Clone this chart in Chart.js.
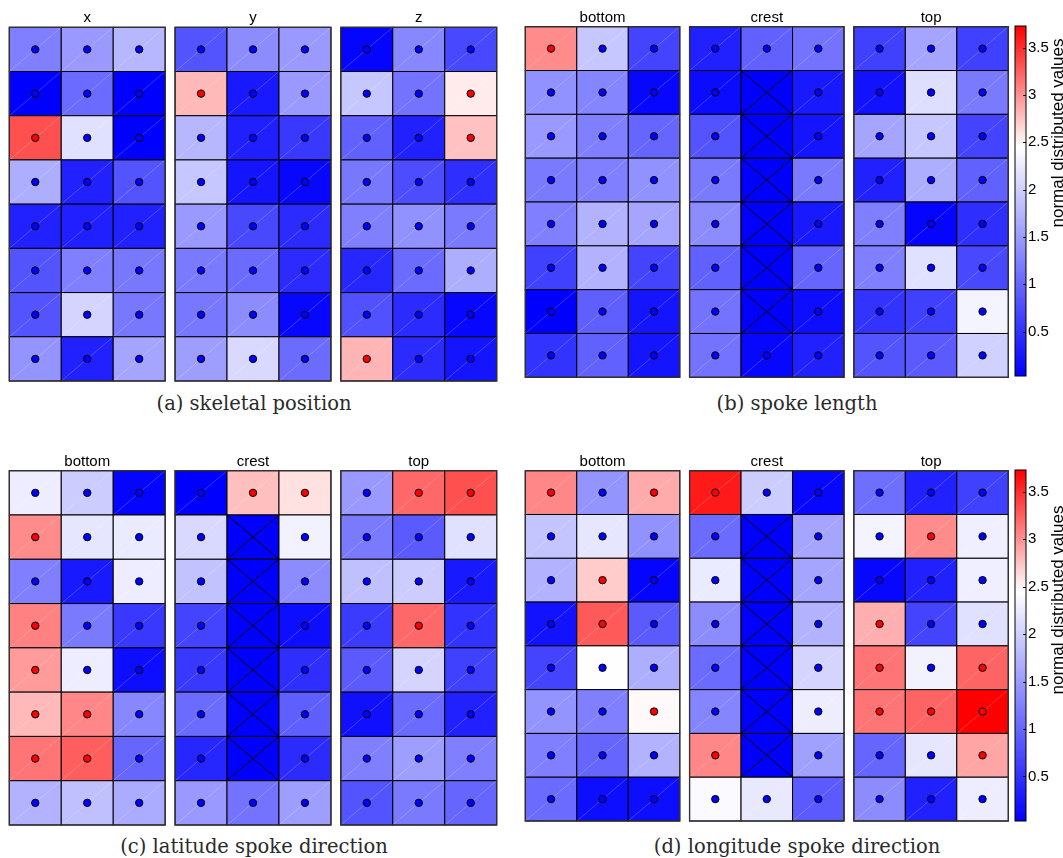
<!DOCTYPE html>
<html>
<head>
<meta charset="utf-8">
<script src="https://cdn.jsdelivr.net/npm/chart.js"></script>
<style>
  body { margin: 0; background: #fff; }
  #page { position: relative; width: 1063px; height: 858px; overflow: hidden; }
  #page canvas { position: absolute; }
  .caption { position: absolute; font-family: 'DejaVu Serif', serif; font-size: 19.5px; color: #2a2a2a;
             transform: translate(-50%, -50%); white-space: nowrap; line-height: 1; }
  .cblabel { position: absolute; font-family: 'Liberation Sans', Arial, sans-serif; font-size: 17px; color: #000;
             transform: translate(-50%, -50%) rotate(-90deg); white-space: nowrap; line-height: 1; }
</style>
</head>
<body>
<div id="page">
  <canvas id="panelA" width="510" height="385" style="left:0px;top:0px"></canvas>
  <canvas id="panelB" width="500" height="385" style="left:515px;top:0px"></canvas>
  <canvas id="panelC" width="510" height="390" style="left:0px;top:440px"></canvas>
  <canvas id="panelD" width="500" height="390" style="left:515px;top:440px"></canvas>
  <canvas id="cbarTop" width="63" height="400" style="left:1000px;top:0px"></canvas>
  <canvas id="cbarBottom" width="63" height="400" style="left:1000px;top:440px"></canvas>

  <div class="caption" style="left:254px;top:404px">(a) skeletal position</div>
  <div class="caption" style="left:797px;top:404px">(b) spoke length</div>
  <div class="caption" style="left:254px;top:847px">(c) latitude spoke direction</div>
  <div class="caption" style="left:797px;top:847px">(d) longitude spoke direction</div>
  <div class="cblabel" style="left:1057px;top:133px">normal distributed values</div>
  <div class="cblabel" style="left:1057px;top:600px">normal distributed values</div>
</div>

<script>
// ---- data: 8 rows (top to bottom) x 3 columns, null = no value (crossed out) ----
const skeletalNames = ['x', 'y', 'z'];
const skeletalX = [
  [1.24, 1.48, 1.77], [0.03, 1.05, 0.03], [3.33, 2.16, 0.03], [1.68, 0.34, 0.83],
  [0.34, 0.32, 0.34], [0.83, 1.24, 1.17], [0.83, 2.04, 1.17], [1.43, 0.34, 1.60]
];
const skeletalY = [
  [0.83, 1.36, 1.48], [2.80, 0.27, 1.48], [1.77, 0.32, 0.56], [1.92, 0.22, 0.10],
  [1.48, 0.71, 0.44], [1.19, 1.05, 0.44], [1.17, 1.36, 0.10], [1.53, 2.09, 1.05]
];
const skeletalZ = [
  [0.08, 1.31, 0.71], [1.92, 1.12, 2.55], [0.95, 0.34, 2.76], [1.17, 0.76, 0.47],
  [1.24, 1.41, 1.19], [0.39, 1.05, 1.68], [0.80, 0.44, 0.10], [2.82, 0.44, 0.22]
];

const partNames = ['bottom', 'crest', 'top'];
const lengthBottom = [
  [3.03, 1.92, 0.68], [1.41, 1.29, 0.10], [1.48, 1.24, 1.00], [1.19, 1.24, 1.41],
  [1.24, 1.72, 1.60], [0.64, 1.72, 0.68], [0.03, 0.93, 0.22], [0.51, 0.95, 0.22]
];
const lengthCrest = [
  [0.34, 0.95, 1.12], [0.13, null, 0.27], [0.83, null, 0.22], [1.19, null, 1.19],
  [1.36, null, 0.27], [0.95, null, 1.00], [1.12, null, 0.15], [1.12, 0.10, 0.34]
];
const lengthTop = [
  [0.64, 1.60, 0.64], [0.20, 2.14, 1.19], [1.60, 1.92, 0.68], [0.34, 1.68, 0.95],
  [1.24, 0.08, 0.47], [1.24, 2.16, 0.71], [0.51, 0.64, 2.35], [0.83, 0.88, 2.01]
];

const latBottom = [
  [2.28, 1.97, 0.08], [3.03, 2.21, 2.26], [1.24, 0.27, 2.28], [3.08, 1.19, 0.56],
  [2.95, 2.28, 0.15], [2.80, 3.05, 1.31], [3.15, 3.26, 1.00], [1.72, 1.85, 1.65]
];
const latCrest = [
  [0.03, 2.77, 2.60], [2.09, null, 2.33], [1.87, null, 1.36], [0.68, null, 0.15],
  [0.56, null, 0.47], [1.05, null, 0.93], [0.39, null, 0.44], [1.48, 1.12, 1.53]
];
const latTop = [
  [1.48, 3.21, 3.33], [1.19, 0.88, 2.16], [1.85, 1.97, 0.27], [0.59, 3.21, 0.51],
  [0.88, 2.04, 0.64], [0.18, 1.05, 0.34], [1.24, 1.53, 1.24], [0.83, 1.19, 1.00]
];

const lonBottom = [
  [3.05, 1.43, 2.87], [1.89, 2.21, 1.41], [1.72, 2.71, 0.08], [0.20, 3.28, 0.88],
  [0.68, 2.44, 1.68], [1.43, 1.24, 2.48], [1.24, 1.00, 1.72], [1.05, 0.15, 0.15]
];
const lonCrest = [
  [3.60, 1.97, 0.10], [1.05, null, 1.60], [2.26, null, 1.60], [1.36, null, 1.72],
  [1.05, null, 2.04], [1.29, null, 2.28], [3.05, null, 1.55], [2.40, 2.23, 0.88]
];
const lonTop = [
  [1.07, 0.34, 0.64], [2.35, 3.03, 2.30], [0.10, 0.34, 2.30], [2.85, 0.68, 2.16],
  [3.15, 2.33, 3.23], [3.15, 3.23, 3.73], [1.00, 2.21, 2.90], [1.36, 0.34, 2.28]
];

const colourbarTicks = [0.5, 1, 1.5, 2, 2.5, 3, 3.5];

// colour scale: blue -> white -> red
const VMIN = 0.03, VWHITE = 2.45, VMAX = 3.73;
const GAP = 0.19;                 // gap between the three grids, in cell widths
const SPAN = 9 + 2 * GAP;

function clamp01(t) { return Math.max(0, Math.min(1, t)); }
function cellColour(v) {
  if (v === null) return 'rgb(0,0,255)';
  if (v <= VWHITE) {
    const c = Math.round(255 * clamp01((v - VMIN) / (VWHITE - VMIN)));
    return `rgb(${c},${c},255)`;
  }
  const c = Math.round(255 * (1 - clamp01((v - VWHITE) / (VMAX - VWHITE))));
  return `rgb(255,${c},${c})`;
}

Chart.defaults.color = '#000';
Chart.defaults.font.family = "'Liberation Sans', Arial, sans-serif";

const heatmapCells = {
  id: 'heatmapCells',
  beforeDatasetsDraw(chart, args, opts) {
    const {ctx, scales: {x, y}} = chart;
    ctx.save();
    opts.groups.forEach((grid, g) => {
      const x0 = g * (3 + GAP);
      grid.forEach((row, r) => {
        row.forEach((v, c) => {
          const l = x.getPixelForValue(x0 + c), rr = x.getPixelForValue(x0 + c + 1);
          const t = y.getPixelForValue(r), b = y.getPixelForValue(r + 1);
          ctx.fillStyle = cellColour(v);
          ctx.fillRect(l, t, rr - l, b - t);
          // faint seam of the two triangles each patch is made of
          ctx.strokeStyle = 'rgba(255,255,255,0.35)';
          ctx.lineWidth = 0.6;
          ctx.beginPath(); ctx.moveTo(l, b); ctx.lineTo(rr, t); ctx.stroke();
          ctx.strokeStyle = '#000';
          ctx.lineWidth = 1;
          if (v === null) {
            ctx.beginPath();
            ctx.moveTo(l, t); ctx.lineTo(rr, b);
            ctx.moveTo(l, b); ctx.lineTo(rr, t);
            ctx.stroke();
          }
          ctx.strokeRect(l, t, rr - l, b - t);
        });
      });
      const l = x.getPixelForValue(x0), rr = x.getPixelForValue(x0 + 3);
      const t = y.getPixelForValue(0), b = y.getPixelForValue(8);
      ctx.strokeStyle = '#333';
      ctx.lineWidth = 1.3;
      ctx.strokeRect(l, t, rr - l, b - t);
    });
    ctx.restore();
  }
};

function dotPoints(groups) {
  const pts = [];
  groups.forEach((grid, g) => grid.forEach((row, r) => row.forEach((v, c) => {
    if (v !== null) pts.push({x: g * (3 + GAP) + c + 0.5, y: r + 0.5, v: v});
  })));
  return pts;
}

function makePanel(id, names, groups, pad) {
  new Chart(document.getElementById(id), {
    type: 'scatter',
    data: {
      datasets: [{
        data: dotPoints(groups),
        pointRadius: 3.7,
        pointBorderWidth: 1,
        pointBorderColor: '#000',
        pointBackgroundColor: ctx => (ctx.raw && ctx.raw.v > VWHITE) ? 'rgb(255,0,0)' : 'rgb(0,0,255)'
      }]
    },
    options: {
      responsive: false,
      animation: false,
      events: [],
      layout: {autoPadding: false, padding: {left: pad.left, right: pad.right, top: 0, bottom: pad.bottom}},
      scales: {
        x: {
          type: 'linear', position: 'top', min: 0, max: SPAN,
          grid: {display: false, drawTicks: false}, border: {display: false},
          afterBuildTicks: s => { s.ticks = [0, 1, 2].map(g => ({value: g * (3 + GAP) + 1.5})); },
          afterFit: s => { s.height = pad.top; },
          ticks: {
            autoSkip: false, maxRotation: 0, padding: 0,
            font: {size: 15},
            callback: (value, index) => names[index]
          }
        },
        y: {type: 'linear', min: 0, max: 8, reverse: true, display: false}
      },
      plugins: {
        legend: {display: false},
        tooltip: {enabled: false},
        heatmapCells: {groups: groups}
      }
    },
    plugins: [heatmapCells]
  });
}

makePanel('panelA', skeletalNames, [skeletalX, skeletalY, skeletalZ],
  {left: 9.3, right: 13.3, top: 27.3, bottom: 4});
makePanel('panelB', partNames, [lengthBottom, lengthCrest, lengthTop],
  {left: 10.3, right: 6.7, top: 26.7, bottom: 7.7});
makePanel('panelC', partNames, [latBottom, latCrest, latTop],
  {left: 9.3, right: 13.3, top: 30.7, bottom: 5});
makePanel('panelD', partNames, [lonBottom, lonCrest, lonTop],
  {left: 10.3, right: 6.7, top: 30.7, bottom: 9});

const colourbarFill = {
  id: 'colourbarFill',
  beforeDatasetsDraw(chart) {
    const {ctx, chartArea: a, scales: {y}} = chart;
    ctx.save();
    for (let py = Math.floor(a.top); py < a.bottom; py++) {
      ctx.fillStyle = cellColour(y.getValueForPixel(py + 0.5));
      ctx.fillRect(a.left, py, a.right - a.left, 1);
    }
    ctx.strokeStyle = '#000';
    ctx.lineWidth = 1;
    ctx.strokeRect(a.left, a.top, a.right - a.left, a.bottom - a.top);
    ctx.beginPath();
    colourbarTicks.forEach(v => {
      const py = Math.round(y.getPixelForValue(v)) + 0.5;
      ctx.moveTo(a.right - 3, py); ctx.lineTo(a.right, py);
    });
    ctx.stroke();
    ctx.restore();
  }
};

function makeColourbar(id, top, bottom) {
  new Chart(document.getElementById(id), {
    type: 'scatter',
    data: {datasets: []},
    options: {
      responsive: false,
      animation: false,
      events: [],
      layout: {autoPadding: false, padding: {left: 15, right: 0, top: top, bottom: bottom}},
      scales: {
        x: {type: 'linear', min: 0, max: 1, display: false},
        y: {
          type: 'linear', position: 'right', min: VMIN, max: VMAX,
          grid: {display: false, drawTicks: false}, border: {display: false},
          afterBuildTicks: s => { s.ticks = colourbarTicks.map(v => ({value: v})); },
          afterFit: s => { s.width = 37; },
          ticks: {padding: 2, font: {size: 15}, callback: v => String(v)}
        }
      },
      plugins: {legend: {display: false}, tooltip: {enabled: false}}
    },
    plugins: [colourbarFill]
  });
}

makeColourbar('cbarTop', 26, 24);
makeColourbar('cbarBottom', 30, 19);
</script>
</body>
</html>
